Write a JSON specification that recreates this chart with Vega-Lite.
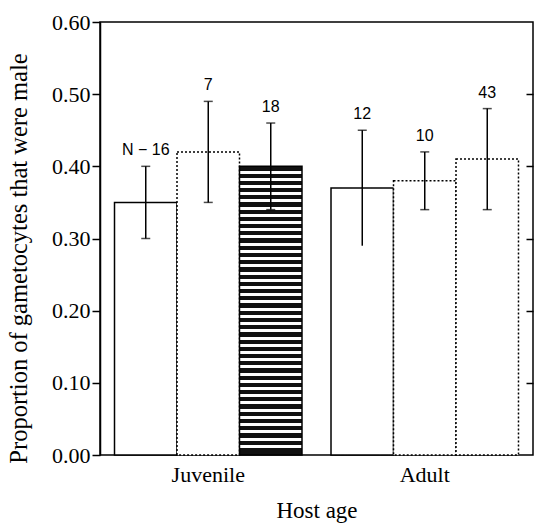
{
  "$schema": "https://vega.github.io/schema/vega-lite/v6.json",
  "width": 433,
  "height": 433,
  "autosize": {"type": "none"},
  "padding": {"left": 100, "top": 22, "right": 5, "bottom": 69},
  "background": "white",
  "config": {
    "view": {"stroke": "black", "strokeWidth": 1.5},
    "axis": {
      "domainColor": "black",
      "domainWidth": 1.5,
      "tickColor": "black",
      "tickWidth": 1.5,
      "labelColor": "black",
      "titleColor": "black",
      "labelFont": "Liberation Serif",
      "titleFont": "Liberation Serif",
      "labelFontSize": 22,
      "titleFontSize": 23,
      "titleFontWeight": "normal",
      "grid": false
    }
  },
  "data": {
    "values": [
      {"age": "Juvenile", "series": "1", "value": 0.35, "lo": 0.30, "hi": 0.40, "label": "N − 16"},
      {"age": "Juvenile", "series": "2", "value": 0.42, "lo": 0.35, "hi": 0.49, "label": "7"},
      {"age": "Juvenile", "series": "3", "value": 0.40, "lo": 0.34, "hi": 0.46, "label": "18"},
      {"age": "Adult", "series": "1", "value": 0.37, "lo": 0.29, "hi": 0.45, "label": "12"},
      {"age": "Adult", "series": "2", "value": 0.38, "lo": 0.34, "hi": 0.42, "label": "10"},
      {"age": "Adult", "series": "3", "value": 0.41, "lo": 0.34, "hi": 0.48, "label": "43"}
    ]
  },
  "encoding": {
    "x": {
      "field": "age",
      "type": "nominal",
      "sort": ["Juvenile", "Adult"],
      "scale": {"paddingInner": 0.134, "paddingOuter": 0.067},
      "axis": {
        "title": "Host age",
        "labelAngle": 0,
        "ticks": false,
        "domain": false,
        "labelPadding": 9,
        "titlePadding": 14
      }
    },
    "xOffset": {
      "field": "series",
      "type": "nominal",
      "scale": {"paddingInner": 0, "paddingOuter": 0}
    }
  },
  "layer": [
    {
      "mark": {"type": "bar", "stroke": "black", "strokeWidth": 1.5},
      "encoding": {
        "y": {
          "field": "value",
          "type": "quantitative",
          "scale": {"domain": [0, 0.6], "nice": false},
          "axis": {
            "title": "Proportion of gametocytes that were male",
            "titleFontSize": 24.5,
            "titleY": 236,
            "values": [0, 0.1, 0.2, 0.3, 0.4, 0.5, 0.6],
            "format": ".2f",
            "tickSize": 8,
            "labelPadding": 2,
            "titlePadding": 20
          }
        },
        "fill": {
          "condition": {
            "test": "datum.age === 'Juvenile' && datum.series === '3'",
            "value": {
              "gradient": "linear", "x1": 0, "y1": 0, "x2": 0, "y2": 1,
              "stops": [
                {"offset": 0, "color": "#111"}, {"offset": 0.0145, "color": "#111"}, {"offset": 0.0145, "color": "#fff"}, {"offset": 0.025, "color": "#fff"},
                {"offset": 0.025, "color": "#111"}, {"offset": 0.0395, "color": "#111"}, {"offset": 0.0395, "color": "#fff"}, {"offset": 0.05, "color": "#fff"},
                {"offset": 0.05, "color": "#111"}, {"offset": 0.0645, "color": "#111"}, {"offset": 0.0645, "color": "#fff"}, {"offset": 0.075, "color": "#fff"},
                {"offset": 0.075, "color": "#111"}, {"offset": 0.0895, "color": "#111"}, {"offset": 0.0895, "color": "#fff"}, {"offset": 0.1, "color": "#fff"},
                {"offset": 0.1, "color": "#111"}, {"offset": 0.1145, "color": "#111"}, {"offset": 0.1145, "color": "#fff"}, {"offset": 0.125, "color": "#fff"},
                {"offset": 0.125, "color": "#111"}, {"offset": 0.1395, "color": "#111"}, {"offset": 0.1395, "color": "#fff"}, {"offset": 0.15, "color": "#fff"},
                {"offset": 0.15, "color": "#111"}, {"offset": 0.1645, "color": "#111"}, {"offset": 0.1645, "color": "#fff"}, {"offset": 0.175, "color": "#fff"},
                {"offset": 0.175, "color": "#111"}, {"offset": 0.1895, "color": "#111"}, {"offset": 0.1895, "color": "#fff"}, {"offset": 0.2, "color": "#fff"},
                {"offset": 0.2, "color": "#111"}, {"offset": 0.2145, "color": "#111"}, {"offset": 0.2145, "color": "#fff"}, {"offset": 0.225, "color": "#fff"},
                {"offset": 0.225, "color": "#111"}, {"offset": 0.2395, "color": "#111"}, {"offset": 0.2395, "color": "#fff"}, {"offset": 0.25, "color": "#fff"},
                {"offset": 0.25, "color": "#111"}, {"offset": 0.2645, "color": "#111"}, {"offset": 0.2645, "color": "#fff"}, {"offset": 0.275, "color": "#fff"},
                {"offset": 0.275, "color": "#111"}, {"offset": 0.2895, "color": "#111"}, {"offset": 0.2895, "color": "#fff"}, {"offset": 0.3, "color": "#fff"},
                {"offset": 0.3, "color": "#111"}, {"offset": 0.3145, "color": "#111"}, {"offset": 0.3145, "color": "#fff"}, {"offset": 0.325, "color": "#fff"},
                {"offset": 0.325, "color": "#111"}, {"offset": 0.3395, "color": "#111"}, {"offset": 0.3395, "color": "#fff"}, {"offset": 0.35, "color": "#fff"},
                {"offset": 0.35, "color": "#111"}, {"offset": 0.3645, "color": "#111"}, {"offset": 0.3645, "color": "#fff"}, {"offset": 0.375, "color": "#fff"},
                {"offset": 0.375, "color": "#111"}, {"offset": 0.3895, "color": "#111"}, {"offset": 0.3895, "color": "#fff"}, {"offset": 0.4, "color": "#fff"},
                {"offset": 0.4, "color": "#111"}, {"offset": 0.4145, "color": "#111"}, {"offset": 0.4145, "color": "#fff"}, {"offset": 0.425, "color": "#fff"},
                {"offset": 0.425, "color": "#111"}, {"offset": 0.4395, "color": "#111"}, {"offset": 0.4395, "color": "#fff"}, {"offset": 0.45, "color": "#fff"},
                {"offset": 0.45, "color": "#111"}, {"offset": 0.4645, "color": "#111"}, {"offset": 0.4645, "color": "#fff"}, {"offset": 0.475, "color": "#fff"},
                {"offset": 0.475, "color": "#111"}, {"offset": 0.4895, "color": "#111"}, {"offset": 0.4895, "color": "#fff"}, {"offset": 0.5, "color": "#fff"},
                {"offset": 0.5, "color": "#111"}, {"offset": 0.5145, "color": "#111"}, {"offset": 0.5145, "color": "#fff"}, {"offset": 0.525, "color": "#fff"},
                {"offset": 0.525, "color": "#111"}, {"offset": 0.5395, "color": "#111"}, {"offset": 0.5395, "color": "#fff"}, {"offset": 0.55, "color": "#fff"},
                {"offset": 0.55, "color": "#111"}, {"offset": 0.5645, "color": "#111"}, {"offset": 0.5645, "color": "#fff"}, {"offset": 0.575, "color": "#fff"},
                {"offset": 0.575, "color": "#111"}, {"offset": 0.5895, "color": "#111"}, {"offset": 0.5895, "color": "#fff"}, {"offset": 0.6, "color": "#fff"},
                {"offset": 0.6, "color": "#111"}, {"offset": 0.6145, "color": "#111"}, {"offset": 0.6145, "color": "#fff"}, {"offset": 0.625, "color": "#fff"},
                {"offset": 0.625, "color": "#111"}, {"offset": 0.6395, "color": "#111"}, {"offset": 0.6395, "color": "#fff"}, {"offset": 0.65, "color": "#fff"},
                {"offset": 0.65, "color": "#111"}, {"offset": 0.6645, "color": "#111"}, {"offset": 0.6645, "color": "#fff"}, {"offset": 0.675, "color": "#fff"},
                {"offset": 0.675, "color": "#111"}, {"offset": 0.6895, "color": "#111"}, {"offset": 0.6895, "color": "#fff"}, {"offset": 0.7, "color": "#fff"},
                {"offset": 0.7, "color": "#111"}, {"offset": 0.7145, "color": "#111"}, {"offset": 0.7145, "color": "#fff"}, {"offset": 0.725, "color": "#fff"},
                {"offset": 0.725, "color": "#111"}, {"offset": 0.7395, "color": "#111"}, {"offset": 0.7395, "color": "#fff"}, {"offset": 0.75, "color": "#fff"},
                {"offset": 0.75, "color": "#111"}, {"offset": 0.7645, "color": "#111"}, {"offset": 0.7645, "color": "#fff"}, {"offset": 0.775, "color": "#fff"},
                {"offset": 0.775, "color": "#111"}, {"offset": 0.7895, "color": "#111"}, {"offset": 0.7895, "color": "#fff"}, {"offset": 0.8, "color": "#fff"},
                {"offset": 0.8, "color": "#111"}, {"offset": 0.8145, "color": "#111"}, {"offset": 0.8145, "color": "#fff"}, {"offset": 0.825, "color": "#fff"},
                {"offset": 0.825, "color": "#111"}, {"offset": 0.8395, "color": "#111"}, {"offset": 0.8395, "color": "#fff"}, {"offset": 0.85, "color": "#fff"},
                {"offset": 0.85, "color": "#111"}, {"offset": 0.8645, "color": "#111"}, {"offset": 0.8645, "color": "#fff"}, {"offset": 0.875, "color": "#fff"},
                {"offset": 0.875, "color": "#111"}, {"offset": 0.8895, "color": "#111"}, {"offset": 0.8895, "color": "#fff"}, {"offset": 0.9, "color": "#fff"},
                {"offset": 0.9, "color": "#111"}, {"offset": 0.9145, "color": "#111"}, {"offset": 0.9145, "color": "#fff"}, {"offset": 0.925, "color": "#fff"},
                {"offset": 0.925, "color": "#111"}, {"offset": 0.9395, "color": "#111"}, {"offset": 0.9395, "color": "#fff"}, {"offset": 0.95, "color": "#fff"},
                {"offset": 0.95, "color": "#111"}, {"offset": 0.9645, "color": "#111"}, {"offset": 0.9645, "color": "#fff"}, {"offset": 0.975, "color": "#fff"},
                {"offset": 0.975, "color": "#111"}, {"offset": 1, "color": "#111"}
              ]
            }
          },
          "value": "white"
        },
        "strokeDash": {
          "condition": {
            "test": "datum.series === '2' || (datum.age === 'Adult' && datum.series === '3')",
            "value": [2, 2]
          },
          "value": [1, 0]
        }
      }
    },
    {
      "mark": {"type": "rule", "color": "black", "strokeWidth": 1.5},
      "encoding": {
        "y": {"field": "lo", "type": "quantitative", "axis": {"orient": "right", "title": null, "labels": false, "domain": false, "tickSize": -7, "values": [0.1, 0.2, 0.3, 0.4, 0.5]}},
        "y2": {"field": "hi"}
      }
    },
    {
      "mark": {"type": "tick", "color": "black", "thickness": 1.5, "size": 9, "orient": "horizontal"},
      "encoding": {
        "y": {"field": "hi", "type": "quantitative", "axis": null}
      }
    },
    {
      "transform": [{"filter": "!(datum.age === 'Adult' && datum.series === '1')"}],
      "mark": {"type": "tick", "color": "black", "thickness": 1.5, "size": 9, "orient": "horizontal"},
      "encoding": {
        "y": {"field": "lo", "type": "quantitative", "axis": null}
      }
    },
    {
      "mark": {"type": "text", "font": "Liberation Sans", "fontSize": 16, "color": "black", "baseline": "middle", "dy": -16},
      "encoding": {
        "y": {"field": "hi", "type": "quantitative", "axis": null},
        "text": {"field": "label"}
      }
    }
  ],
  "resolve": {"axis": {"y": "independent"}}
}
